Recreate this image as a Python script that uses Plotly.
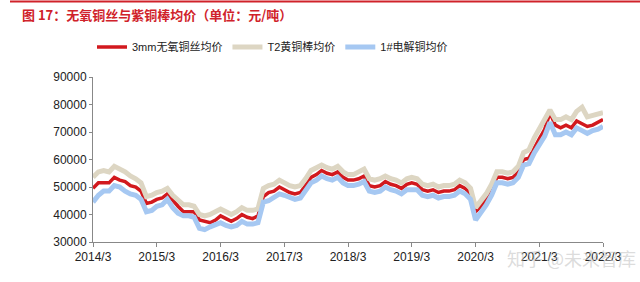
import pandas as pd
import plotly.graph_objects as go

months = pd.date_range("2014-03-01", "2022-03-01", freq="MS")

wire_3mm = [
    49500, 51500, 51500, 51500, 53500, 52500, 52000, 50500, 50000, 48500,
    44000, 44500, 45500, 46000, 47500, 45000, 43000, 41000, 41000, 41000, 38000, 37500,
    37000, 38000, 39500, 38500, 37500, 38500, 40000, 39000, 38500, 39500, 46500, 48000,
    48500, 50000, 49000, 48000, 47500, 48000, 50500, 53500, 54500, 56000, 55000, 54500,
    55500, 53500, 52500, 52500, 53000, 54000, 50500, 50000, 50500, 52000, 51000, 50500,
    49500, 51000, 51500, 51000, 49000, 48500, 49000, 48000, 48500, 48500, 49000, 50500,
    49500, 47500, 41000, 43000, 45500, 49000, 53500, 53500, 53000, 53500, 55500, 60000,
    60500, 64500, 67500, 71000, 77000, 72500, 71500, 72500, 71500, 74000, 73000, 72000,
    72500, 73500, 74500,
]
t2_rod = [
    53500, 55500, 56000, 55500, 57500, 56500, 55500, 54000, 53000, 51500,
    46500, 47000, 48000, 48500, 49500, 47000, 45000, 43500, 43500, 43000, 40000, 39500,
    40000, 41000, 42000, 41000, 40000, 41000, 42500, 41500, 41500, 42000, 49500, 50500,
    51000, 52500, 51500, 50500, 50000, 50500, 53000, 56000, 57000, 58000, 57000, 56500,
    57500, 55500, 54500, 54500, 55500, 56500, 53000, 52500, 53000, 54000, 53000, 52500,
    51500, 53000, 53500, 53000, 51000, 50500, 51000, 50000, 50500, 50500, 51000, 52500,
    51500, 49500, 42500, 45000, 47500, 51000, 55500, 55500, 55000, 55500, 57500, 62500,
    63500, 68000, 71000, 74000, 78000, 74500, 74500, 75500, 74500, 77500, 79000, 75500,
    76000, 76500, 77000,
]
cathode_1 = [
    44500, 47000, 48500, 48500, 50500, 50000, 48500, 47500, 47000, 45500,
    41000, 41500, 43000, 43500, 45500, 42500, 40500, 39500, 39500, 39000, 35000, 34500,
    35500, 36500, 37000, 36000, 35500, 36000, 37500, 36500, 36500, 37000, 44500, 45000,
    46000, 47500, 47000, 46000, 45500, 46000, 48500, 51500, 52500, 54000, 53000, 52500,
    53500, 51500, 50500, 50500, 51000, 52000, 48500, 48000, 48500, 50000, 49000, 48500,
    47500, 49000, 49000, 49000, 47000, 46500, 47000, 46000, 46500, 46500, 47000, 48500,
    47500, 45500, 38000, 40500, 43500, 47000, 51500, 51500, 51000, 51500, 53500, 58000,
    58500, 62500, 65500, 68500, 73500, 69000, 69000, 70000, 69000, 71500, 70500, 69500,
    70500, 71000, 72000,
]

series_names = ["3mm无氧铜丝均价", "T2黄铜棒均价", "1#电解铜均价"]
tick_dates = pd.date_range("2014-03-01", "2022-03-01", freq="12MS")
tick_labels = ["2014/3", "2015/3", "2016/3", "2017/3", "2018/3", "2019/3", "2020/3", "2021/3", "2022/3"]
y_ticks = [30000, 40000, 50000, 60000, 70000, 80000, 90000]

FONT = "Liberation Sans, Arial, Noto Sans CJK SC, sans-serif"

fig = go.Figure()
fig.add_trace(go.Scatter(x=months, y=wire_3mm, name=series_names[0], mode="lines",
                         line=dict(color="#d2191e", width=3.5)))
fig.add_trace(go.Scatter(x=months, y=t2_rod, name=series_names[1], mode="lines",
                         line=dict(color="#ddd6c3", width=5)))
fig.add_trace(go.Scatter(x=months, y=cathode_1, name=series_names[2], mode="lines",
                         line=dict(color="#a6c8f2", width=5)))

fig.update_layout(
    width=640, height=282,
    margin=dict(l=93, r=37, t=77, b=40, autoexpand=False),
    paper_bgcolor="white", plot_bgcolor="white",
    font=dict(family=FONT, size=12, color="#222222"),
    showlegend=True,
    legend=dict(orientation="h", x=92/640, xanchor="left", xref="container",
                y=1 - 47/282, yref="container", yanchor="middle",
                font=dict(size=11, color="#222222"), tracegroupgap=0),
)
fig.add_annotation(text="<b>图 17：无氧铜丝与紫铜棒均价（单位：元/吨）</b>",
                   xref="paper", yref="paper", x=(20 - 93)/510, y=1 + 63/165,
                   xanchor="left", yanchor="middle", showarrow=False,
                   font=dict(family="Noto Sans CJK SC, sans-serif", size=13, color="#d0222a"))
fig.add_annotation(text="知乎 @未来智库", xref="paper", yref="paper",
                   x=1 + 35/510, y=-16/165, xanchor="right", yanchor="middle", showarrow=False,
                   font=dict(family="Noto Sans CJK SC, sans-serif", size=18, color="rgba(190,190,190,0.55)"))
fig.add_shape(type="line", xref="paper", yref="paper", x0=-83/510, x1=1 + 37/510,
              y0=1 + 75.5/165, y1=1 + 75.5/165, line=dict(color="#d0222a", width=2))

fig.update_xaxes(
    type="date", range=[months[0], months[-1]],
    tickvals=tick_dates, ticktext=tick_labels,
    showline=True, linecolor="#888888", linewidth=1,
    ticks="outside", ticklen=4, tickcolor="#888888",
    showgrid=False, zeroline=False,
    tickfont=dict(size=12, color="#222222"),
)
fig.update_yaxes(
    range=[30000, 90000], tickvals=y_ticks, tickformat="d",
    showline=True, linecolor="#888888", linewidth=1,
    ticks="outside", ticklen=3, tickcolor="#888888",
    showgrid=False, zeroline=False,
    tickfont=dict(size=12, color="#222222"),
)

fig.write_html("out.html")
